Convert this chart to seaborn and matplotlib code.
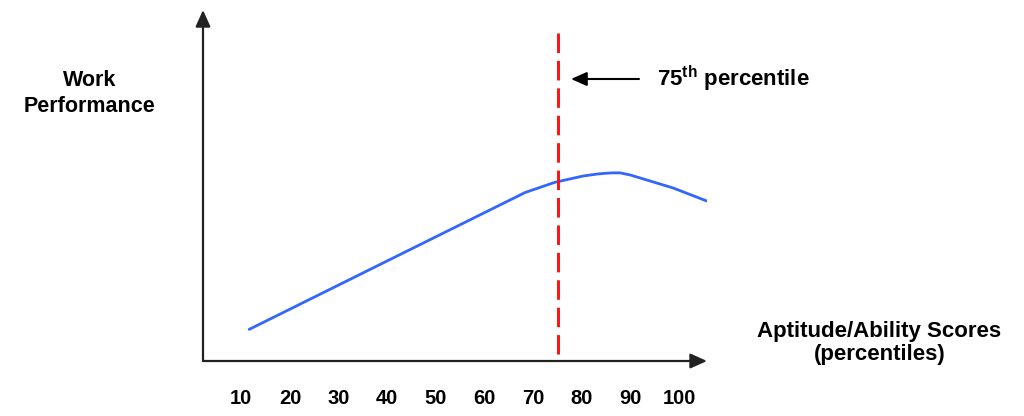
import matplotlib
matplotlib.use("Agg")
import matplotlib.pyplot as plt
import seaborn as sns
import pandas as pd

# ---- data ----
scores = [11.6, 68.3, 74.4, 80.2, 83.3, 85.0, 86.4, 87.8, 89.9, 92.5, 98.7, 105.6]
performance = [9.0, 48.0, 50.9, 52.7, 53.3, 53.5, 53.6, 53.6, 53.0, 51.9, 49.3, 45.6]
tick_values = [10, 20, 30, 40, 50, 60, 70, 80, 90, 100]
tick_labels = ["10", "20", "30", "40", "50", "60", "70", "80", "90", "100"]
threshold = 75
threshold_span = [93.4, 2.0]
y_label_lines = ["Work", "Performance"]
x_label_lines = ["Aptitude/Ability Scores", "(percentiles)"]
annotation_text = "75$^{\\mathrm{th}}$ percentile"

sns.set_style("white")
plt.rcParams["font.family"] = ["Liberation Sans", "DejaVu Sans"]
plt.rcParams["mathtext.fontset"] = "custom"
plt.rcParams["mathtext.rm"] = "Liberation Sans:bold"
plt.rcParams["mathtext.it"] = "Liberation Sans:bold"
plt.rcParams["mathtext.bf"] = "Liberation Sans:bold"

W, H = 1024, 416
fig = plt.figure(figsize=(W / 100, H / 100), dpi=100)
fig.patch.set_facecolor("white")


def fx(x):
    return x / W


def fy(y):
    return 1 - y / H


ax_left, ax_right, ax_top, ax_bottom = 203, 707, 10, 361
ax = fig.add_axes([fx(ax_left), fy(ax_bottom), (ax_right - ax_left) / W, (ax_bottom - ax_top) / H])
ax.set_facecolor("white")

df = pd.DataFrame({"score": scores, "performance": performance})
sns.lineplot(data=df, x="score", y="performance", ax=ax, color="#3366FF", lw=2.0, sort=False)

# dashed threshold line
ax.plot([threshold, threshold], threshold_span, color="#FF1010", lw=2.1,
        linestyle=(0, (6.7, 2.7)), solid_capstyle="butt", dash_capstyle="butt")

ax.set_xlim(2.12, 105.67)
ax.set_ylim(0, 100)
ax.set_xticks(tick_values)
ax.set_xticklabels(tick_labels, fontsize=14.5, fontweight="bold", color="black")
ax.set_yticks([])
ax.tick_params(axis="x", length=0, pad=20)
ax.set_xlabel("")
ax.set_ylabel("")
for s in ax.spines.values():
    s.set_visible(False)

# axes drawn as arrows
axis_color = "#222222"
ax.annotate("", xy=(1, 0), xytext=(0, 0), xycoords="axes fraction", textcoords="axes fraction",
            arrowprops=dict(arrowstyle="-|>,head_length=1.0,head_width=0.45", lw=1.6,
                            color=axis_color, shrinkA=0, shrinkB=0))
ax.annotate("", xy=(0, 1), xytext=(0, 0), xycoords="axes fraction", textcoords="axes fraction",
            arrowprops=dict(arrowstyle="-|>,head_length=1.0,head_width=0.45", lw=1.6,
                            color=axis_color, shrinkA=0, shrinkB=0))

# annotation arrow and text
ax.annotate("", xy=(fx(571), fy(79)), xytext=(fx(639), fy(79)), xycoords="figure fraction",
            textcoords="figure fraction",
            arrowprops=dict(arrowstyle="-|>,head_length=0.95,head_width=0.42", lw=1.5,
                            color="black", shrinkA=0, shrinkB=0))
fig.text(fx(657), fy(86.7), annotation_text, fontsize=16, fontweight="bold",
         ha="left", va="baseline", color="black")

# axis titles
fig.text(fx(89.5), fy(85.7), y_label_lines[0], fontsize=15.5, fontweight="bold",
         ha="center", va="baseline", color="black")
fig.text(fx(89.5), fy(111.7), y_label_lines[1], fontsize=15.5, fontweight="bold",
         ha="center", va="baseline", color="black")
fig.text(fx(879), fy(337.3), x_label_lines[0], fontsize=16, fontweight="bold",
         ha="center", va="baseline", color="black")
fig.text(fx(880), fy(360), x_label_lines[1], fontsize=16, fontweight="bold",
         ha="center", va="baseline", color="black")

fig.savefig("out.png", dpi=100, facecolor="white")
